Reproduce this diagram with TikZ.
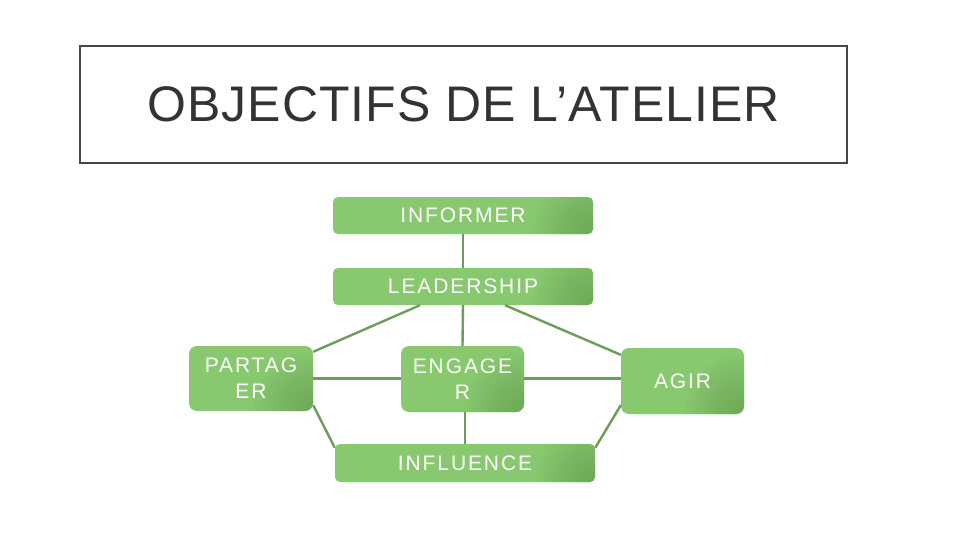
\documentclass[tikz,border=0pt]{standalone}
\usepackage{fontspec}
\setmainfont{Liberation Sans}
\newfontfamily\titlefont[LetterSpace=2]{Liberation Sans}
\newfontfamily\boxfont[LetterSpace=9]{Liberation Sans}
\definecolor{gl}{HTML}{88C96F}
\definecolor{gd}{HTML}{5E904A}
\definecolor{ln}{HTML}{6E9C5B}
\definecolor{tg}{HTML}{333333}
\begin{document}
\begin{tikzpicture}[x=1pt,y=-1pt,
  box/.style={draw=none, rounded corners=5pt, fill=gl,
    path picture={\foreach \r in {5,10,...,60} {\fill[gd, opacity=0.055] (path picture bounding box.south east) circle (\r pt);}},
    text=white, font=\boxfont\fontsize{21}{26}\selectfont, align=center, inner sep=0pt},
  link/.style={draw=ln, line width=2.4pt}]
\useasboundingbox (0,0) rectangle (960,540);
\fill[white] (0,0) rectangle (960,540);
\node[draw=tg!90, line width=2pt, minimum width=767pt, minimum height=117pt, inner sep=0pt,
  text=tg, font=\titlefont\fontsize{50}{52}\selectfont] (title) at (463.5,104.5) {OBJECTIFS DE L’ATELIER};
\node[box, minimum width=260pt, minimum height=37pt] (inf) at (463,215.5) {INFORMER};
\node[box, minimum width=260pt, minimum height=37pt] (lead) at (463,286.5) {LEADERSHIP};
\node[box, minimum width=124pt, minimum height=65pt, rounded corners=8pt] (part) at (251,378.5) {PARTAG\\ER};
\node[box, minimum width=123pt, minimum height=66pt, rounded corners=8pt] (eng) at (462.5,379) {ENGAGE\\R};
\node[box, minimum width=123pt, minimum height=66pt, rounded corners=8pt] (agir) at (682.5,381) {AGIR};
\node[box, minimum width=260pt, minimum height=38pt] (infl) at (465,463) {INFLUENCE};
\draw[link] (inf.south) -- (lead.north);
\draw[link] ([xshift=-43pt]lead.south) -- ([yshift=-6pt]part.north east);
\draw[link] (lead.south) -- (eng.north);
\draw[link] ([xshift=42pt]lead.south) -- ([yshift=-7pt]agir.north west);
\draw[link] (part.east) -- (part.east -| eng.west);
\draw[link] (eng.east |- part.east) -- (part.east -| agir.west);
\draw[link] ([yshift=6pt]part.south east) -- ([yshift=-4pt]infl.north west);
\draw[link] ([xshift=2.5pt]eng.south) -- (infl.north);
\draw[link] ([yshift=9pt]agir.south west) -- ([yshift=-4pt]infl.north east);
\end{tikzpicture}
\end{document}
